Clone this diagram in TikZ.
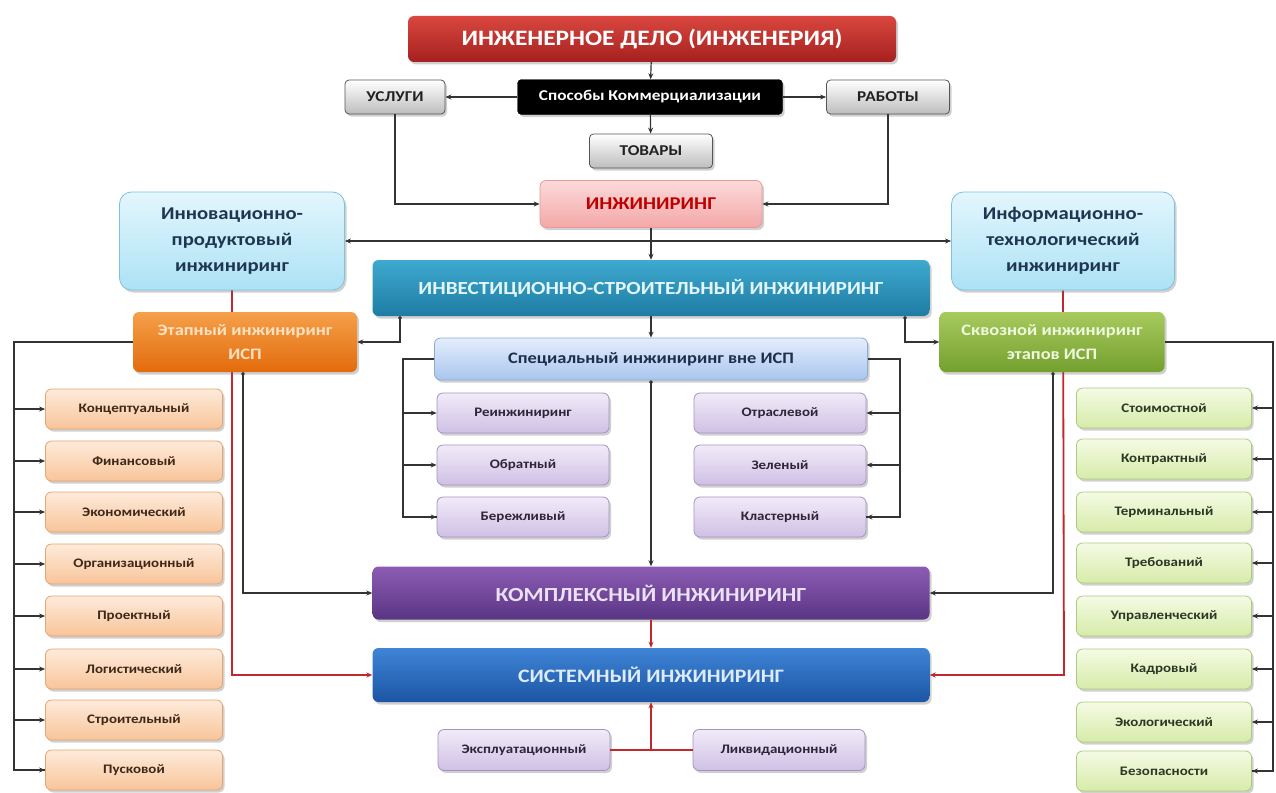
\documentclass[tikz,border=0pt]{standalone}
\usepackage{fontspec}
\setmainfont{Carlito}[FakeStretch=1.15]
\usetikzlibrary{arrows.meta,shadows}
\pgfdeclarelayer{background}
\pgfsetlayers{background,main}

\definecolor{linec}{HTML}{333333}
\definecolor{redl}{HTML}{C0282D}
\definecolor{titleT}{HTML}{D9473F}\definecolor{titleB}{HTML}{A5201F}
\definecolor{greyD}{HTML}{555555}\definecolor{greyB}{HTML}{BDBDBD}\definecolor{greyTx}{HTML}{222222}
\definecolor{pinkD}{HTML}{E69A9A}\definecolor{pinkT}{HTML}{FBDADA}\definecolor{pinkB}{HTML}{F4A7A7}\definecolor{pinkTx}{HTML}{C00000}
\definecolor{skyD}{HTML}{7FC2DE}\definecolor{skyT}{HTML}{E3F6FD}\definecolor{skyB}{HTML}{ACE2F5}\definecolor{skyTx}{HTML}{1F3552}
\definecolor{tealT}{HTML}{3FA9CF}\definecolor{tealB}{HTML}{1E7CA3}\definecolor{tealTx}{HTML}{E2F5FB}
\definecolor{orT}{HTML}{F5A04A}\definecolor{orB}{HTML}{E36B0C}\definecolor{orTx}{HTML}{FFE2C4}
\definecolor{grT}{HTML}{A8CA5E}\definecolor{grB}{HTML}{73A02E}\definecolor{grTx}{HTML}{F0F8E0}
\definecolor{spD}{HTML}{8FA9D6}\definecolor{spT}{HTML}{E4EEFC}\definecolor{spB}{HTML}{A9C5EE}\definecolor{spTx}{HTML}{1F2E4C}
\definecolor{liD}{HTML}{A592C2}\definecolor{liT}{HTML}{F1EBF8}\definecolor{liB}{HTML}{CFC0E5}\definecolor{liTx}{HTML}{2E2538}
\definecolor{coT}{HTML}{8C5CB4}\definecolor{coB}{HTML}{5A3584}\definecolor{coTx}{HTML}{EAE2F4}
\definecolor{syT}{HTML}{3F84D6}\definecolor{syB}{HTML}{1C55A4}\definecolor{syTx}{HTML}{DDEBFB}
\definecolor{peD}{HTML}{E2A573}\definecolor{peT}{HTML}{FEEBDB}\definecolor{peB}{HTML}{F8C499}\definecolor{peTx}{HTML}{3E2818}
\definecolor{lmD}{HTML}{ADCB80}\definecolor{lmT}{HTML}{F5FBE4}\definecolor{lmB}{HTML}{D6EBA8}\definecolor{lmTx}{HTML}{2C3824}

\tikzset{
  base/.style={rounded corners=6pt, align=center, inner sep=0pt, font=\bfseries,
    drop shadow={shadow xshift=2pt, shadow yshift=-2.5pt, opacity=0.3, fill=black!60}},
  titlebox/.style={base, draw=none, top color=titleT, bottom color=titleB, text=white},
  blackbox/.style={base, draw=black, fill=black, text=white, rounded corners=4pt},
  greybox/.style={base, draw=greyD, line width=0.8pt, top color=white, bottom color=greyB, text=greyTx, rounded corners=4pt},
  pinkbox/.style={base, draw=pinkD, line width=0.8pt, top color=pinkT, bottom color=pinkB, text=pinkTx},
  skybox/.style={base, draw=skyD, line width=0.8pt, top color=skyT, bottom color=skyB, text=skyTx, rounded corners=12pt},
  tealbox/.style={base, draw=none, top color=tealT, bottom color=tealB, text=tealTx},
  orangebox/.style={base, draw=none, top color=orT, bottom color=orB, text=orTx},
  greenbox/.style={base, draw=none, top color=grT, bottom color=grB, text=grTx},
  specbox/.style={base, draw=spD, line width=0.8pt, top color=spT, bottom color=spB, text=spTx},
  smalltext/.style={font=\bfseries\fontsize{13}{15}\selectfont},
  lilacbox/.style={base, draw=liD, line width=0.8pt, top color=liT, bottom color=liB, text=liTx, smalltext},
  complbox/.style={base, draw=none, top color=coT, bottom color=coB, text=coTx},
  sysbox/.style={base, draw=none, top color=syT, bottom color=syB, text=syTx},
  peachbox/.style={base, draw=peD, line width=0.8pt, top color=peT, bottom color=peB, text=peTx, smalltext},
  limebox/.style={base, draw=lmD, line width=0.8pt, top color=lmT, bottom color=lmB, text=lmTx, smalltext},
  conn/.style={draw=linec, line width=1.2pt},
  redc/.style={draw=redl, line width=1.8pt},
  arr/.style={-{Stealth[length=6pt,width=5pt]}},
  darr/.style={{Circle[length=3.5pt]}-{Stealth[length=6pt,width=5pt]}},
}

\begin{document}
\begin{tikzpicture}[x=1pt,y=-1pt]
\useasboundingbox (0,0) rectangle (1276,792);

% top level
\node[titlebox, minimum width=488, minimum height=46, font=\bfseries\fontsize{22}{24}\selectfont] (top) at (652,39) {ИНЖЕНЕРНОЕ ДЕЛО (ИНЖЕНЕРИЯ)};
\node[blackbox, minimum width=265, minimum height=35, font=\bfseries\fontsize{15}{17}\selectfont] (spos) at (650,97) {Способы Коммерциализации};
\node[greybox, minimum width=100, minimum height=34, font=\bfseries\fontsize{15}{17}\selectfont] (usl) at (395,97) {УСЛУГИ};
\node[greybox, minimum width=123, minimum height=34, font=\bfseries\fontsize{15}{17}\selectfont] (rab) at (888,97) {РАБОТЫ};
\node[greybox, minimum width=123, minimum height=34, font=\bfseries\fontsize{15}{17}\selectfont] (tov) at (651,151) {ТОВАРЫ};
\node[pinkbox, minimum width=222, minimum height=47, font=\bfseries\fontsize{18}{20}\selectfont] (inzh) at (651,204) {ИНЖИНИРИНГ};

% second level
\node[skybox, minimum width=225, minimum height=98, font=\bfseries\fontsize{18}{26}\selectfont] (innov) at (232,241) {Инновационно-\\продуктовый\\инжиниринг};
\node[skybox, minimum width=223, minimum height=98, font=\bfseries\fontsize{18}{26}\selectfont] (info) at (1063,241) {Информационно-\\технологический\\инжиниринг};
\node[tealbox, minimum width=557, minimum height=56, font=\bfseries\fontsize{18.5}{21}\selectfont] (isi) at (651,288) {ИНВЕСТИЦИОННО-СТРОИТЕЛЬНЫЙ ИНЖИНИРИНГ};
\node[orangebox, minimum width=224, minimum height=60, font=\bfseries\fontsize{16}{24}\selectfont] (etap) at (245,342) {Этапный инжиниринг\\ИСП};
\node[greenbox, minimum width=225, minimum height=60, font=\bfseries\fontsize{16}{24}\selectfont] (skv) at (1052,342) {Сквозной инжиниринг\\этапов ИСП};
\node[specbox, minimum width=433, minimum height=42, font=\bfseries\fontsize{16}{18}\selectfont] (spec) at (651,359) {Специальный инжиниринг вне ИСП};

% special engineering kinds
\node[lilacbox, minimum width=172, minimum height=40] (s1) at (523,413) {Реинжиниринг};
\node[lilacbox, minimum width=172, minimum height=40] (s2) at (523,465) {Обратный};
\node[lilacbox, minimum width=172, minimum height=40] (s3) at (523,517) {Бережливый};
\node[lilacbox, minimum width=172, minimum height=40] (s4) at (780,413) {Отраслевой};
\node[lilacbox, minimum width=172, minimum height=40] (s5) at (780,465) {Зеленый};
\node[lilacbox, minimum width=172, minimum height=40] (s6) at (780,517) {Кластерный};

% lower level
\node[complbox, minimum width=557, minimum height=53, font=\bfseries\fontsize{20}{22}\selectfont] (kompl) at (651,593) {КОМПЛЕКСНЫЙ ИНЖИНИРИНГ};
\node[sysbox, minimum width=557, minimum height=54, font=\bfseries\fontsize{19}{22}\selectfont] (sys) at (651,675) {СИСТЕМНЫЙ ИНЖИНИРИНГ};
\node[lilacbox, minimum width=172, minimum height=41] (ex) at (524,750) {Эксплуатационный};
\node[lilacbox, minimum width=172, minimum height=41] (lq) at (779,750) {Ликвидационный};

% stage engineering kinds
\node[peachbox, minimum width=177, minimum height=40] (a1) at (134,409) {Концептуальный};
\node[peachbox, minimum width=177, minimum height=40] (a2) at (134,461) {Финансовый};
\node[peachbox, minimum width=177, minimum height=40] (a3) at (134,512) {Экономический};
\node[peachbox, minimum width=177, minimum height=40] (a4) at (134,564) {Организационный};
\node[peachbox, minimum width=177, minimum height=40] (a5) at (134,616) {Проектный};
\node[peachbox, minimum width=177, minimum height=40] (a6) at (134,669) {Логистический};
\node[peachbox, minimum width=177, minimum height=40] (a7) at (134,720) {Строительный};
\node[peachbox, minimum width=177, minimum height=40] (a8) at (134,770) {Пусковой};

% end-to-end engineering kinds
\node[limebox, minimum width=175, minimum height=40] (b1) at (1164,408) {Стоимостной};
\node[limebox, minimum width=175, minimum height=40] (b2) at (1164,459) {Контрактный};
\node[limebox, minimum width=175, minimum height=40] (b3) at (1164,512) {Терминальный};
\node[limebox, minimum width=175, minimum height=40] (b4) at (1164,563) {Требований};
\node[limebox, minimum width=175, minimum height=40] (b5) at (1164,616) {Управленческий};
\node[limebox, minimum width=175, minimum height=40] (b6) at (1164,669) {Кадровый};
\node[limebox, minimum width=175, minimum height=40] (b7) at (1164,722) {Экологический};
\node[limebox, minimum width=175, minimum height=40] (b8) at (1164,771) {Безопасности};

% routing points
\coordinate (j1) at (651,241);
\coordinate (lbus) at (14,342);
\coordinate (rbus) at (1273,342);
\coordinate (slb) at (403,359);
\coordinate (srb) at (900,359);
\coordinate (ej) at (651,750);

\begin{pgfonlayer}{background}
  \fill[white] (0,0) rectangle (1276,792);
  % red paths passing behind the stage boxes
  \draw[redc, arr] (innov.south) -- (232,675) -- (sys.west);
  \draw[redc, arr] (info.south) -- (1064,675) -- (sys.east);
\end{pgfonlayer}

% commercialisation
\draw[conn, arr] (top) -- (spos);
\draw[conn, arr] (spos) -- (usl);
\draw[conn, arr] (spos) -- (rab);
\draw[conn, arr] (spos) -- (tov);
\draw[conn, arr] (usl.south) |- (inzh.west);
\draw[conn, arr] (rab.south) |- (inzh.east);

% engineering branches
\draw[conn, arr] (inzh) -- (isi);
\draw[conn, arr] (j1) -- (innov.east);
\draw[conn, arr] (j1) -- (info.west);
\draw[conn, darr] (isi.south -| 400,0) |- (etap.east);
\draw[conn, darr] (isi.south -| 905,0) |- (skv.west);
\draw[conn, arr] (isi) -- (spec);
\draw[conn, darr] (spec.south) -- (kompl.north);

% special engineering bus lines
\draw[conn] (spec.west) -- (slb) |- (s3.west);
\foreach \s in {s1,s2,s3} \draw[conn, arr] (slb |- \s.west) -- (\s.west);
\draw[conn] (spec.east) -- (srb) |- (s6.east);
\foreach \s in {s4,s5,s6} \draw[conn, arr] (srb |- \s.east) -- (\s.east);

% stage and end-to-end links to complex engineering
\draw[conn, darr] (etap.south -| 243,0) |- (kompl.west);
\draw[conn, darr] (skv.south -| 1053,0) |- (kompl.east);

% left and right buses
\draw[conn] (etap.west) -- (lbus) |- (a8.west);
\foreach \a in {a1,a2,a3,a4,a5,a6,a7,a8} \draw[conn, arr] (lbus |- \a.west) -- (\a.west);
\draw[conn] (skv.east) -- (rbus) |- (b8.east);
\foreach \b in {b1,b2,b3,b4,b5,b6,b7,b8} \draw[conn, arr] (rbus |- \b.east) -- (\b.east);

% system engineering
\draw[redc, arr] (kompl) -- (sys);
\draw[redc] (ex.east) -- (lq.west);
\draw[redc, arr] (ej) -- (sys.south);
\end{tikzpicture}
\end{document}
